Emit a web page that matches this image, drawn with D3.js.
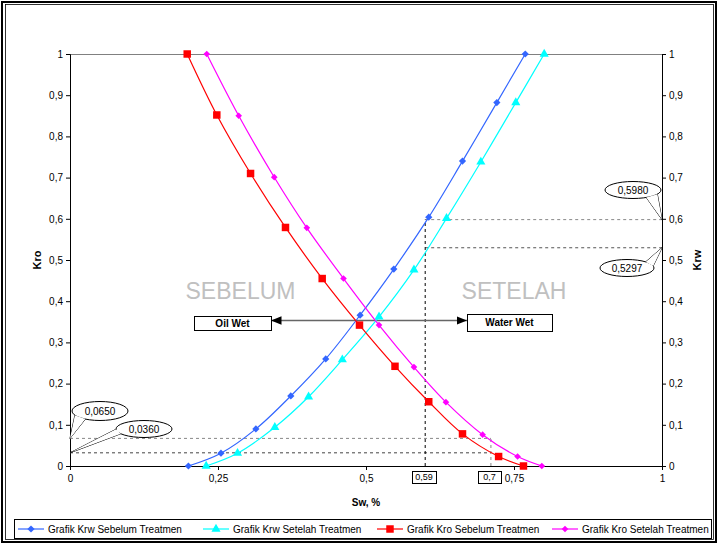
<!DOCTYPE html>
<html lang="en">
<meta charset="utf-8">
<head>
    <title>Kurva Permeabilitas Relatif</title>
    <script src="https://cdn.jsdelivr.net/npm/d3@7/dist/d3.min.js"></script>
    <style>
        body { margin: 0; background: #fff; }
        text { font-family: "Liberation Sans", Arial, sans-serif; }
        .tick text { font-size: 10px; }
    </style>
</head>
<body>
<script>
    // Data
    const swKrwSebelum = [0.200, 0.255, 0.314, 0.373, 0.432, 0.490, 0.547, 0.606, 0.663, 0.721, 0.769];
    const krwSebelum   = [0, 0.031, 0.090, 0.170, 0.260, 0.366, 0.478, 0.604, 0.740, 0.882, 1];
    const swKrwSetelah = [0.230, 0.283, 0.346, 0.403, 0.460, 0.522, 0.581, 0.636, 0.694, 0.753, 0.801];
    const krwSetelah   = [0, 0.031, 0.094, 0.168, 0.258, 0.362, 0.476, 0.601, 0.738, 0.882, 1];
    const swKroSebelum = [0.198, 0.248, 0.305, 0.364, 0.426, 0.489, 0.549, 0.606, 0.663, 0.724, 0.766];
    const kroSebelum   = [1, 0.852, 0.710, 0.579, 0.455, 0.342, 0.242, 0.156, 0.078, 0.023, 0];
    const swKroSetelah = [0.231, 0.285, 0.345, 0.400, 0.462, 0.522, 0.581, 0.635, 0.697, 0.756, 0.797];
    const kroSetelah   = [1, 0.850, 0.701, 0.578, 0.455, 0.342, 0.240, 0.155, 0.076, 0.023, 0];

    const seriesNames = ["Grafik Krw Sebelum Treatmen", "Grafik Krw Setelah Treatmen",
                         "Grafik Kro Sebelum Treatmen", "Grafik Kro Setelah Treatmen"];
    const seriesColors = ["#3366ff", "#00ffff", "#ff0000", "#ff00ff"];

    const yTicks = [0, 0.1, 0.2, 0.3, 0.4, 0.5, 0.6, 0.7, 0.8, 0.9, 1];
    const xTicks = [0, 0.25, 0.5, 0.75, 1];

    // annotation values
    const leftCallouts = [{ v: 0.067, label: "0,0650" }, { v: 0.032, label: "0,0360" }];
    const rightCallouts = [{ v: 0.598, label: "0,5980" }, { v: 0.5297, label: "0,5297" }];
    const swMarks = [{ v: 0.600, label: "0,59" }, { v: 0.711, label: "0,7" }];

    const W = 721, H = 545;
    const margin = { top: 54, right: 59, bottom: 79, left: 70 };
    const width = W - margin.left - margin.right,
          height = H - margin.top - margin.bottom;

    const svg = d3.select("body").append("svg")
        .attr("width", W).attr("height", H);

    // outer chart border
    svg.append("rect").attr("x", 2).attr("y", 2).attr("width", W - 7).attr("height", H - 5)
        .attr("fill", "#fff").attr("stroke", "#000").attr("stroke-width", 2);
    svg.append("rect").attr("x", 5.5).attr("y", 4.5).attr("width", W - 13).attr("height", H - 10)
        .attr("fill", "none").attr("stroke", "#000").attr("stroke-width", 0.8);

    const g = svg.append("g").attr("transform", `translate(${margin.left},${margin.top})`);

    const x = d3.scaleLinear().domain([0, 1]).range([0, width]);
    const y = d3.scaleLinear().domain([0, 1]).range([height, 0]);
    const fmt = d => d3.format("")(+d.toFixed(2)).replace(".", ",");

    // plot area top border
    g.append("line").attr("x1", 0).attr("x2", width).attr("y1", 0.5).attr("y2", 0.5)
        .attr("stroke", "#808080");

    // axes
    const axL = g.append("g").call(d3.axisLeft(y).tickValues(yTicks).tickFormat(fmt).tickSize(4).tickPadding(3));
    const axR = g.append("g").attr("transform", `translate(${width},0)`)
        .call(d3.axisRight(y).tickValues(yTicks).tickFormat(fmt).tickSize(4).tickPadding(3));
    const axB = g.append("g").attr("transform", `translate(0,${height})`)
        .call(d3.axisBottom(x).tickValues(xTicks).tickFormat(fmt).tickSize(4).tickPadding(5));
    [axL, axR, axB].forEach(a => {
        a.select(".domain").attr("stroke", "#000");
        a.selectAll(".tick text").attr("fill", "#000");
    });
    axB.selectAll(".tick text").filter(d => d === 0.75).attr("font-size", 11);

    // axis titles
    svg.append("text").attr("transform", `translate(41,${margin.top + height / 2}) rotate(-90)`)
        .attr("text-anchor", "middle").attr("font-weight", "bold").attr("font-size", 11).text("Kro");
    svg.append("text").attr("transform", `translate(701,${margin.top + height / 2}) rotate(-90)`)
        .attr("text-anchor", "middle").attr("font-weight", "bold").attr("font-size", 11).text("Krw");
    svg.append("text").attr("x", margin.left + width / 2).attr("y", 506)
        .attr("text-anchor", "middle").attr("font-weight", "bold").attr("font-size", 10).text("Sw, %");

    // big region labels
    g.append("text").attr("x", x(0.288)).attr("y", y(0.405)).attr("text-anchor", "middle")
        .attr("font-size", 23).attr("fill", "#c0c0c0").text("SEBELUM");
    g.append("text").attr("x", x(0.75)).attr("y", y(0.405)).attr("text-anchor", "middle")
        .attr("font-size", 23).attr("fill", "#c0c0c0").text("SETELAH");

    // dashed guide lines
    g.append("line").attr("x1", 0).attr("x2", x(swMarks[1].v))
        .attr("y1", y(leftCallouts[0].v)).attr("y2", y(leftCallouts[0].v))
        .attr("stroke", "#888").attr("stroke-dasharray", "3,3");
    g.append("line").attr("x1", 0).attr("x2", x(swMarks[1].v))
        .attr("y1", y(leftCallouts[1].v)).attr("y2", y(leftCallouts[1].v))
        .attr("stroke", "#444").attr("stroke-dasharray", "3,3");
    g.append("line").attr("x1", x(swMarks[1].v)).attr("x2", x(swMarks[1].v))
        .attr("y1", y(0)).attr("y2", y(leftCallouts[0].v))
        .attr("stroke", "#888").attr("stroke-dasharray", "3,3");
    g.append("line").attr("x1", x(swMarks[0].v)).attr("x2", width)
        .attr("y1", y(rightCallouts[0].v)).attr("y2", y(rightCallouts[0].v))
        .attr("stroke", "#888").attr("stroke-dasharray", "3,3");
    g.append("line").attr("x1", x(swMarks[0].v)).attr("x2", width)
        .attr("y1", y(rightCallouts[1].v)).attr("y2", y(rightCallouts[1].v))
        .attr("stroke", "#555").attr("stroke-dasharray", "3,3");
    g.append("line").attr("x1", x(swMarks[0].v)).attr("x2", x(swMarks[0].v))
        .attr("y1", y(0)).attr("y2", y(rightCallouts[0].v))
        .attr("stroke", "#000").attr("stroke-dasharray", "3,3");

    // Oil Wet / Water Wet arrow
    svg.append("defs").append("marker").attr("id", "arr").attr("viewBox", "0 0 10 10")
        .attr("refX", 10).attr("refY", 5).attr("markerWidth", 7).attr("markerHeight", 7)
        .attr("orient", "auto-start-reverse")
        .append("path").attr("d", "M0,1 L10,5 L0,9 Z").attr("fill", "#000");
    const arrowY = 320.5 - margin.top;
    g.append("line").attr("x1", 271 - margin.left).attr("x2", 467 - margin.left)
        .attr("y1", arrowY).attr("y2", arrowY).attr("stroke", "#666").attr("stroke-width", 1.5)
        .attr("marker-start", "url(#arr)").attr("marker-end", "url(#arr)");

    function textBox(x0, y0, w, h, label, bold, fs) {
        svg.append("rect").attr("x", x0 + 0.5).attr("y", y0 + 0.5).attr("width", w).attr("height", h)
            .attr("fill", "#fff").attr("stroke", "#000");
        svg.append("text").attr("x", x0 + w / 2).attr("y", y0 + h / 2 + fs * 0.36)
            .attr("text-anchor", "middle").attr("font-weight", bold ? "bold" : "normal")
            .attr("font-size", fs).text(label);
    }

    // series
    const series = [
        { sw: swKrwSebelum, k: krwSebelum },
        { sw: swKrwSetelah, k: krwSetelah },
        { sw: swKroSebelum, k: kroSebelum },
        { sw: swKroSetelah, k: kroSetelah }
    ];
    const line = d3.line().x(d => x(d[0])).y(d => y(d[1])).curve(d3.curveCatmullRom.alpha(0.5));
    // marker shapes: rotated squares for diamonds
    const markers = [
        { d: d3.symbol().type(d3.symbolSquare).size(26)(), rot: 45 },
        { d: d3.symbol().type(d3.symbolTriangle).size(36)(), rot: 0 },
        { d: d3.symbol().type(d3.symbolSquare).size(56)(), rot: 0 },
        { d: d3.symbol().type(d3.symbolSquare).size(22)(), rot: 45 }
    ];
    series.forEach((s, i) => {
        const pts = s.sw.map((v, j) => [v, s.k[j]]);
        g.append("path").datum(pts).attr("fill", "none").attr("stroke", seriesColors[i])
            .attr("stroke-width", 1.2).attr("d", line);
        g.selectAll(null).data(pts).enter().append("path")
            .attr("transform", d => `translate(${x(d[0])},${y(d[1])}) rotate(${markers[i].rot})`)
            .attr("d", markers[i].d).attr("fill", seriesColors[i]);
    });

    textBox(194, 316, 77, 14, "Oil Wet", true, 10);
    textBox(467, 314, 85, 17, "Water Wet", true, 10);

    // Sw labels under axis
    textBox(412, 471, 24, 12, swMarks[0].label, false, 9);
    textBox(478, 471, 23, 12, swMarks[1].label, false, 9);

    // callouts
    function callout(cx, cy, rx, ry, tipX, tipY, label) {
        const ang = Math.atan2(tipY - cy, tipX - cx);
        const spread = 0.28;
        const p1 = [cx + rx * Math.cos(ang - spread), cy + ry * Math.sin(ang - spread)];
        const p2 = [cx + rx * Math.cos(ang + spread), cy + ry * Math.sin(ang + spread)];
        const tri = `M${p1[0]},${p1[1]} L${tipX},${tipY} L${p2[0]},${p2[1]}`;
        svg.append("path").attr("d", tri).attr("fill", "none").attr("stroke", "#000");
        svg.append("ellipse").attr("cx", cx).attr("cy", cy).attr("rx", rx).attr("ry", ry)
            .attr("fill", "#fff").attr("stroke", "#000");
        svg.append("path").attr("d", tri + " Z").attr("fill", "#fff");
        svg.append("text").attr("x", cx).attr("y", cy + 3.5).attr("text-anchor", "middle")
            .attr("font-size", 10).text(label);
    }
    const X = v => margin.left + x(v), Y = v => margin.top + y(v);
    callout(100, 411, 28, 9.5, X(0), Y(leftCallouts[0].v), leftCallouts[0].label);
    callout(144, 429, 28, 8.5, X(0), Y(leftCallouts[1].v), leftCallouts[1].label);
    callout(633, 190, 28, 8.5, X(1), Y(rightCallouts[0].v), rightCallouts[0].label);
    callout(627, 268, 27, 8.5, X(1), Y(rightCallouts[1].v), rightCallouts[1].label);

    // legend
    const leg = svg.append("g");
    leg.append("rect").attr("x", 14.5).attr("y", 519.5).attr("width", 697).attr("height", 19)
        .attr("fill", "#fff").attr("stroke", "#000");
    const legX = [18, 203, 377, 552];
    seriesNames.forEach((name, i) => {
        const lg = leg.append("g").attr("transform", `translate(${legX[i]},529)`);
        lg.append("line").attr("x1", 0).attr("x2", 26).attr("stroke", seriesColors[i]).attr("stroke-width", 1.2);
        lg.append("path").attr("transform", `translate(13,0) rotate(${markers[i].rot})`)
            .attr("d", markers[i].d).attr("fill", seriesColors[i]);
        lg.append("text").attr("x", 30).attr("y", 3.5).attr("font-size", 10).text(name);
    });
</script>
</body>
</html>
